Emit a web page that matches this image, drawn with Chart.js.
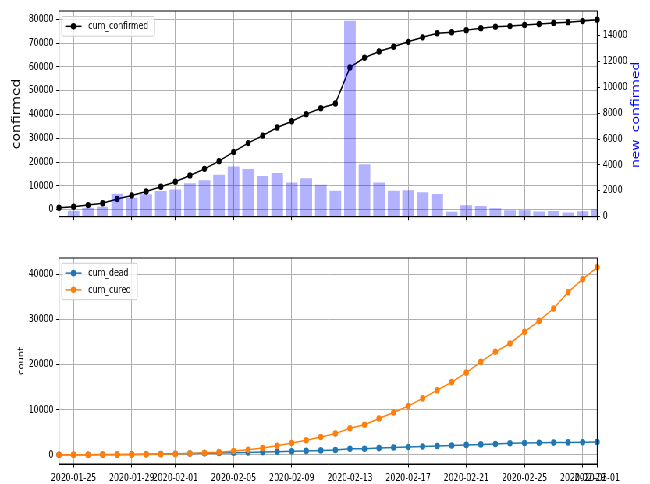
<!DOCTYPE html>
<html>
<head>
<meta charset="utf-8">
<script src="https://cdn.jsdelivr.net/npm/chart.js@4.4.1/dist/chart.umd.min.js"></script>
<style>
  html, body { margin: 0; padding: 0; background: #fff; overflow: hidden; }
  /* the figure is laid out wide and then compressed horizontally */
  #figure { position: absolute; left: 0; top: 0; width: 833px; height: 484px;
            transform: scaleX(0.7803); transform-origin: 0 0; }
  #top { position: absolute; left: 0; top: 0; }
  #bottom { position: absolute; left: 0; top: 240px; }
</style>
</head>
<body>
<div id="figure">
  <canvas id="top" width="833" height="240"></canvas>
  <canvas id="bottom" width="833" height="244"></canvas>
</div>
<script>
// ---- data -------------------------------------------------------------
const dates = [
  '2020-01-24','2020-01-25','2020-01-26','2020-01-27','2020-01-28','2020-01-29',
  '2020-01-30','2020-01-31','2020-02-01','2020-02-02','2020-02-03','2020-02-04',
  '2020-02-05','2020-02-06','2020-02-07','2020-02-08','2020-02-09','2020-02-10',
  '2020-02-11','2020-02-12','2020-02-13','2020-02-14','2020-02-15','2020-02-16',
  '2020-02-17','2020-02-18','2020-02-19','2020-02-20','2020-02-21','2020-02-22',
  '2020-02-23','2020-02-24','2020-02-25','2020-02-26','2020-02-27','2020-02-28',
  '2020-02-29','2020-03-01'
];
const tickDates = [
  '2020-01-25','2020-01-29','2020-02-01','2020-02-05','2020-02-09','2020-02-13',
  '2020-02-17','2020-02-21','2020-02-25','2020-02-29','2020-03-01'
];
const confirmedTicks = [0, 10000, 20000, 30000, 40000, 50000, 60000, 70000, 80000];
const newConfirmedTicks = [0, 2000, 4000, 6000, 8000, 10000, 12000, 14000];
const countTicks = [0, 10000, 20000, 30000, 40000];

const cumConfirmed = [
  830, 1287, 1975, 2744, 4515, 5974, 7711, 9692, 11791, 14380, 17205, 20438,
  24324, 28018, 31161, 34546, 37198, 40171, 42638, 44653, 59804, 63851, 66492, 68500,
  70548, 72436, 74185, 74576, 75465, 76288, 76936, 77150, 77658, 78064, 78497, 78824,
  79251, 79824
];
const newConfirmed = [
  null, 457, 688, 769, 1771, 1459, 1737, 1981, 2099, 2589, 2825, 3233,
  3886, 3694, 3143, 3385, 2652, 2973, 2467, 2015, 15151, 4047, 2641, 2008,
  2048, 1888, 1749, 391, 889, 823, 648, 500, 508, 406, 433, 327,
  427, 573
];
const cumDead = [
  25, 41, 56, 80, 106, 132, 170, 213, 259, 304, 361, 425,
  490, 563, 636, 722, 811, 908, 1016, 1113, 1367, 1380, 1523, 1665,
  1770, 1868, 2004, 2118, 2236, 2345, 2442, 2592, 2663, 2715, 2744, 2788,
  2835, 2870
];
const cumCured = [
  34, 38, 49, 51, 60, 103, 124, 171, 243, 328, 475, 632,
  892, 1153, 1540, 2050, 2649, 3281, 3996, 4740, 5911, 6723, 8096, 9419,
  10844, 12552, 14376, 16155, 18264, 20659, 22888, 24734, 27323, 29745, 32495, 36117,
  39002, 41625
];

// ---- styling ----------------------------------------------------------
const FONT = "'DejaVu Sans', sans-serif";
const GRID = '#b0b0b0';
const CLEAR = 'rgba(0,0,0,0)';
Chart.defaults.font.family = FONT;
Chart.defaults.font.size = 10;
Chart.defaults.color = '#000';

const isDateTick = ctx => {
  const i = ctx.tick ? ctx.tick.value : ctx.index;
  return tickDates.includes(dates[i]);
};

function dateAxis(showLabels, height) {
  return {
    type: 'category',
    offset: false,
    grid: {
      offset: false,
      color: ctx => isDateTick(ctx) ? GRID : CLEAR,
      tickColor: ctx => isDateTick(ctx) ? '#000' : CLEAR,
      tickLength: 3.5,
      lineWidth: 1
    },
    border: { color: '#000', width: 1 },
    ticks: {
      display: showLabels,
      autoSkip: false,
      maxRotation: 0,
      minRotation: 0,
      padding: 5,
      callback: (v, i) => tickDates.includes(dates[i]) ? dates[i] : ''
    },
    afterFit: s => { s.height = height; }
  };
}

function valueAxis(opts) {
  return {
    position: opts.position,
    min: opts.min,
    max: opts.max,
    grid: {
      drawOnChartArea: opts.grid,
      color: GRID,
      tickColor: '#000',
      tickLength: 3.5,
      lineWidth: 1
    },
    border: { color: '#000', width: 1 },
    ticks: {
      padding: 3.5,
      callback: v => String(v)
    },
    afterBuildTicks: s => { s.ticks = opts.ticks.map(v => ({ value: v })); },
    title: opts.title ? {
      display: true,
      text: opts.title,
      font: { size: opts.titleSize },
      color: '#000',
      padding: { top: opts.titlePad, bottom: 0 }
    } : { display: false },
    afterFit: s => { s.width = opts.width; }
  };
}

// black box around the plotting area
const framePlugin = {
  id: 'frame',
  afterDatasetsDraw(chart) {
    const a = chart.chartArea, c = chart.ctx;
    c.save();
    c.strokeStyle = '#000';
    c.lineWidth = 1;
    c.strokeRect(a.left, a.top, a.right - a.left, a.bottom - a.top);
    c.restore();
  }
};

// legend box drawn in the upper-left corner of the plotting area
const cornerLegend = {
  id: 'cornerLegend',
  afterDraw(chart, args, opts) {
    if (!opts.items) return;
    const a = chart.chartArea, c = chart.ctx;
    const rowH = 16.7, pad = 1.5;
    const x = a.left + 3.5, y = a.top + opts.dy;
    c.save();
    c.font = '10px ' + FONT;
    const tw = Math.max(...opts.items.map(it => c.measureText(it.label).width));
    const w = 34 + tw + 8, h = pad * 2 + rowH * opts.items.length;
    c.fillStyle = 'rgba(255,255,255,0.8)';
    c.strokeStyle = '#cccccc';
    c.lineWidth = 1;
    c.beginPath();
    c.roundRect(x, y, w, h, 2);
    c.fill();
    c.stroke();
    opts.items.forEach((it, k) => {
      const cy = y + pad + rowH * (k + 0.5);
      c.strokeStyle = it.color;
      c.lineWidth = 1.5;
      c.beginPath();
      c.moveTo(x + 4.5, cy);
      c.lineTo(x + 25.5, cy);
      c.stroke();
      c.fillStyle = it.color;
      c.beginPath();
      c.arc(x + 15, cy, 3.3, 0, Math.PI * 2);
      c.fill();
      c.fillStyle = '#000';
      c.textBaseline = 'middle';
      c.textAlign = 'left';
      c.fillText(it.label, x + 34, cy + 0.5);
    });
    c.restore();
  }
};

// title of the right-hand axis, reading bottom to top
const rightTitle = {
  id: 'rightTitle',
  afterDraw(chart, args, opts) {
    if (!opts.text) return;
    const a = chart.chartArea, c = chart.ctx;
    c.save();
    c.translate(chart.width - opts.offset, (a.top + a.bottom) / 2 + 1);
    c.rotate(-Math.PI / 2);
    c.font = '14px ' + FONT;
    c.fillStyle = opts.color;
    c.textAlign = 'center';
    c.textBaseline = 'middle';
    c.fillText(opts.text, 0, 0);
    c.restore();
  }
};

// ---- upper panel: cumulative and daily confirmed ------------------------
new Chart(document.getElementById('top'), {
  type: 'bar',
  data: {
    labels: dates,
    datasets: [
      {
        type: 'line',
        label: 'cum_confirmed',
        data: cumConfirmed,
        yAxisID: 'y',
        borderColor: '#000',
        backgroundColor: '#000',
        pointBackgroundColor: '#000',
        pointBorderColor: '#000',
        borderWidth: 1.5,
        pointRadius: 3.2,
        pointBorderWidth: 0,
        tension: 0,
        order: 1
      },
      {
        type: 'bar',
        label: 'new_confirmed',
        data: newConfirmed,
        yAxisID: 'y1',
        backgroundColor: 'rgba(0,0,255,0.3)',
        borderWidth: 0,
        barPercentage: 0.8,
        categoryPercentage: 1.0,
        order: 0
      }
    ]
  },
  options: {
    responsive: false,
    animation: false,
    events: [],
    layout: { padding: { top: 11, left: 0, right: 0, bottom: 0 } },
    scales: {
      x: dateAxis(false, 23.3),
      y: valueAxis({ position: 'left', min: -2900, max: 83500, ticks: confirmedTicks, grid: true,
                     title: 'confirmed', titleSize: 14, titlePad: 12.7, width: 75.6 }),
      y1: valueAxis({ position: 'right', min: 0, max: 15900, ticks: newConfirmedTicks, grid: false,
                      width: 67.6 })
    },
    plugins: {
      legend: { display: false },
      tooltip: { enabled: false },
      cornerLegend: { dy: 5.5, items: [{ label: 'cum_confirmed', color: '#000' }] },
      rightTitle: { text: 'new_confirmed', color: '#0000ff', offset: 17.6 }
    }
  },
  plugins: [framePlugin, cornerLegend, rightTitle]
});

// ---- lower panel: cumulative deaths and recoveries ----------------------
new Chart(document.getElementById('bottom'), {
  type: 'line',
  data: {
    labels: dates,
    datasets: [
      {
        label: 'cum_dead',
        data: cumDead,
        borderColor: '#1f77b4',
        backgroundColor: '#1f77b4',
        pointBackgroundColor: '#1f77b4',
        pointBorderColor: '#1f77b4',
        borderWidth: 1.5,
        pointRadius: 3.3,
        pointBorderWidth: 0,
        tension: 0,
        order: 1
      },
      {
        label: 'cum_cured',
        data: cumCured,
        borderColor: '#ff7f0e',
        backgroundColor: '#ff7f0e',
        pointBackgroundColor: '#ff7f0e',
        pointBorderColor: '#ff7f0e',
        borderWidth: 1.5,
        pointRadius: 3.3,
        pointBorderWidth: 0,
        tension: 0,
        order: 0
      }
    ]
  },
  options: {
    responsive: false,
    animation: false,
    events: [],
    layout: { padding: { top: 18, left: 0, right: 67.6, bottom: 0 } },
    scales: {
      x: dateAxis(true, 20),
      y: valueAxis({ position: 'left', min: -2000, max: 43700, ticks: countTicks, grid: true,
                     title: 'count', titleSize: 10, titlePad: 21, width: 75.6 })
    },
    plugins: {
      legend: { display: false },
      tooltip: { enabled: false },
      cornerLegend: { dy: 5.3, items: [
        { label: 'cum_dead', color: '#1f77b4' },
        { label: 'cum_cured', color: '#ff7f0e' }
      ] }
    }
  },
  plugins: [framePlugin, cornerLegend]
});
</script>
</body>
</html>
